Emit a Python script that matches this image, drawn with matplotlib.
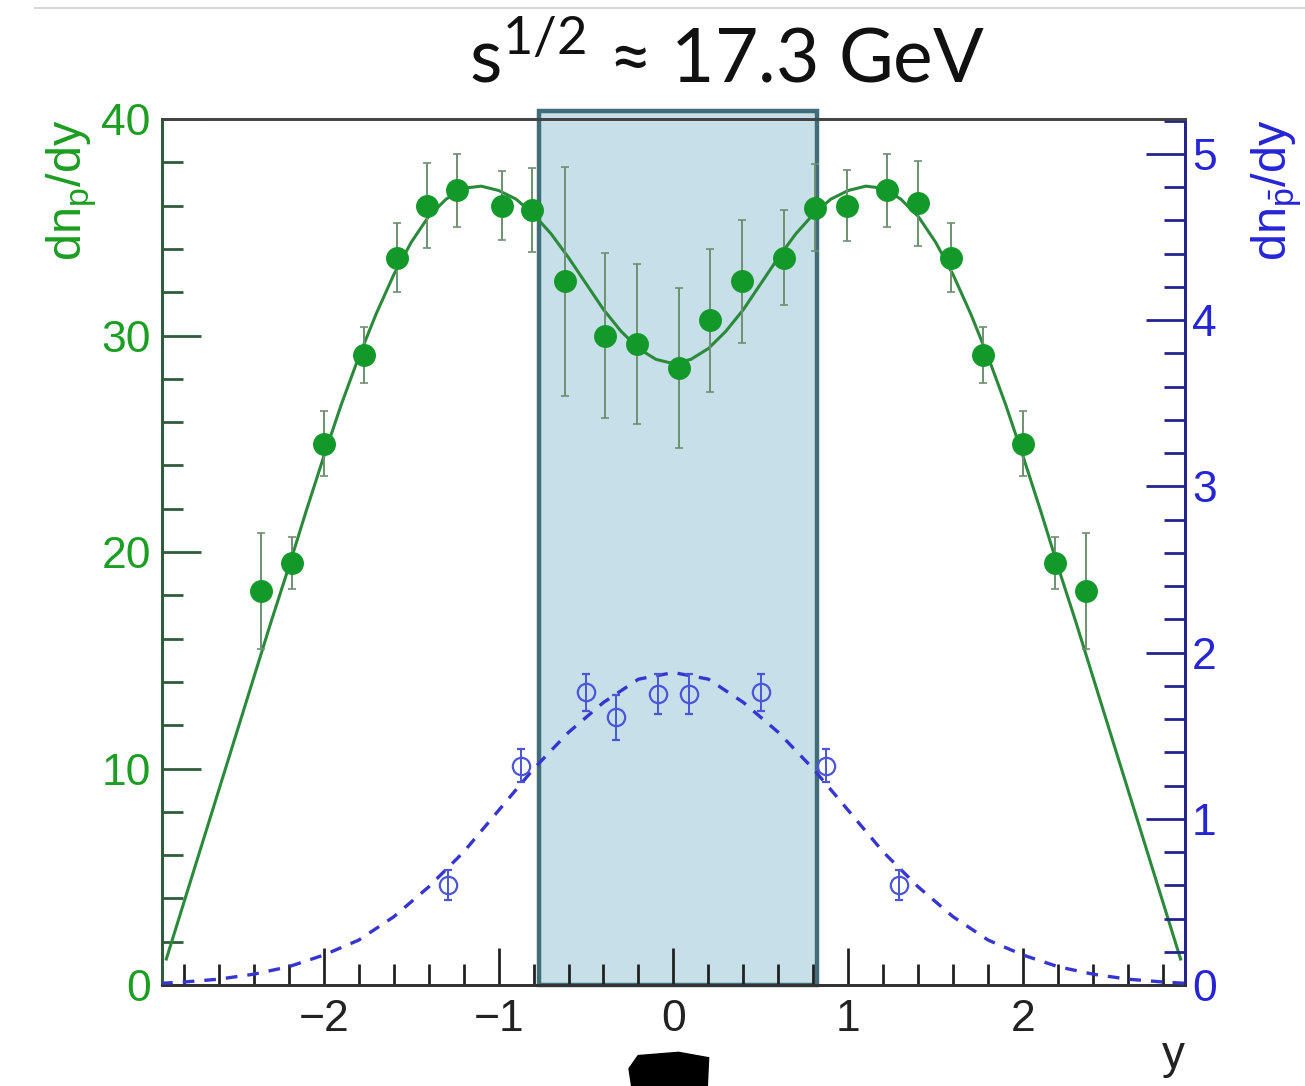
import numpy as np
import matplotlib
matplotlib.use("Agg")
import matplotlib.pyplot as plt
from matplotlib.patches import Rectangle, Polygon
from matplotlib.lines import Line2D
from matplotlib import ticker

plt.rcParams['font.family'] = ['Liberation Sans', 'DejaVu Sans']
plt.rcParams['mathtext.fontset'] = 'custom'
plt.rcParams['mathtext.rm'] = 'Liberation Sans'
plt.rcParams['mathtext.sf'] = 'Lato'

# protons (left axis), filled green points
p_y    = [-2.36, -2.18, -2.0, -1.77, -1.58, -1.41, -1.24, -0.98, -0.81, -0.62, -0.39, -0.21, 0.03,
          0.21, 0.39, 0.63, 0.81, 0.99, 1.22, 1.40, 1.59, 1.77, 2.0, 2.18, 2.36]
p_dndy = [18.2, 19.5, 25.0, 29.1, 33.6, 36.0, 36.7, 36.0, 35.8, 32.5, 30.0, 29.6, 28.5,
          30.7, 32.5, 33.6, 35.9, 36.0, 36.7, 36.1, 33.6, 29.1, 25.0, 19.5, 18.2]
p_err  = [2.7, 1.2, 1.5, 1.3, 1.6, 1.95, 1.7, 1.6, 1.95, 5.3, 3.8, 3.7, 3.7,
          3.3, 2.85, 2.2, 2.0, 1.65, 1.7, 1.95, 1.6, 1.3, 1.5, 1.2, 2.7]

# proton fit curve
fit_y    = [-2.9, -2.8, -2.7, -2.6, -2.5, -2.4, -2.3, -2.2, -2.1, -2.0, -1.9, -1.8, -1.7, -1.6,
            -1.5, -1.4, -1.3, -1.2, -1.1, -1.0, -0.9, -0.8, -0.7, -0.6, -0.5, -0.4, -0.3, -0.2,
            -0.1, 0.0, 0.1, 0.2, 0.3, 0.4, 0.5, 0.6, 0.7, 0.8, 0.9, 1.0, 1.1, 1.2, 1.3, 1.4,
            1.5, 1.6, 1.7, 1.8, 1.9, 2.0, 2.1, 2.2, 2.3, 2.4, 2.5, 2.6, 2.7, 2.8, 2.9]
fit_dndy = [1.2, 3.8, 6.4, 9.0, 11.6, 14.2, 16.8, 19.3, 21.9, 24.4, 26.8, 29.0, 31.0, 32.8,
            34.3, 35.5, 36.3, 36.8, 36.9, 36.7, 36.3, 35.6, 34.7, 33.6, 32.4, 31.2, 30.2, 29.4,
            28.9, 28.7, 28.9, 29.4, 30.2, 31.2, 32.4, 33.6, 34.7, 35.6, 36.3, 36.7, 36.9, 36.8,
            36.3, 35.5, 34.3, 32.8, 31.0, 29.0, 26.8, 24.4, 21.9, 19.3, 16.8, 14.2, 11.6, 9.0,
            6.4, 3.8, 1.2]

# antiprotons (right axis), open blue points
pb_y    = [-1.29, -0.87, -0.50, -0.33, -0.09, 0.09, 0.50, 0.87, 1.29]
pb_dndy = [0.60, 1.32, 1.76, 1.61, 1.75, 1.75, 1.76, 1.32, 0.60]
pb_err  = [0.09, 0.10, 0.11, 0.135, 0.12, 0.12, 0.11, 0.10, 0.09]

# antiproton fit curve (dashed)
gfit_y    = [-2.93, -2.8, -2.6, -2.4, -2.2, -2.0, -1.8, -1.6, -1.4, -1.2, -1.0, -0.8, -0.6, -0.4,
             -0.2, 0.0, 0.2, 0.4, 0.6, 0.8, 1.0, 1.2, 1.4, 1.6, 1.8, 2.0, 2.2, 2.4, 2.6, 2.8, 2.93]
gfit_dndy = [0.01, 0.018, 0.035, 0.065, 0.11, 0.18, 0.27, 0.41, 0.59, 0.80, 1.05, 1.30, 1.52, 1.70,
             1.84, 1.88, 1.84, 1.70, 1.52, 1.30, 1.05, 0.80, 0.59, 0.41, 0.27, 0.18, 0.11, 0.065,
             0.035, 0.018, 0.01]

box_lo, box_hi = -0.77, 0.82
xlim = (-2.925, 2.925)

GREEN = '#13992a'
GREEN_TXT = '#1c9e22'
GREEN_AX = '#2f5c3a'
BLUE = '#2525d6'
BLUE_AX = '#24248f'

fig = plt.figure(figsize=(13.05, 10.86), dpi=100)
ax = fig.add_axes([0.1241, 0.0930, 0.9080 - 0.1241, 0.8904 - 0.0930])
ax2 = ax.twinx()

# highlighted mid-rapidity band
ax.add_patch(Rectangle((box_lo, 0), box_hi - box_lo, 40.35, facecolor='#c6dfe9',
                       edgecolor='#3f6d78', lw=3.2, zorder=1, clip_on=False))

ax.plot(fit_y, fit_dndy, color='#2a8a3a', lw=2.2, zorder=3)
ax.errorbar(p_y, p_dndy, yerr=p_err, fmt='o', color=GREEN, ms=15.5, mec=GREEN,
            ecolor='#6f8f72', elinewidth=1.4, capsize=3, capthick=1.2, zorder=4)

ax2.plot(gfit_y, gfit_dndy, color='#3535d0', lw=2.4, ls=(0, (3.5, 3)), zorder=3)
ax2.errorbar(pb_y, pb_dndy, yerr=pb_err, fmt='o', mfc='none', mec='#4a55d8', mew=1.6, ms=12.5,
             ecolor='#4a55d8', elinewidth=1.4, capsize=3, capthick=1.2, zorder=4)

ax.set_xlim(*xlim)
ax.set_ylim(0, 40)
ax2.set_ylim(0, 5.21)

ax.xaxis.set_major_locator(ticker.MultipleLocator(1))
ax.xaxis.set_minor_locator(ticker.MultipleLocator(0.2))
ax.yaxis.set_major_locator(ticker.MultipleLocator(10))
ax.yaxis.set_minor_locator(ticker.MultipleLocator(2))
ax2.yaxis.set_major_locator(ticker.MultipleLocator(1))
ax2.yaxis.set_minor_locator(ticker.MultipleLocator(0.2))

ax.tick_params(axis='x', which='both', direction='in', top=False, colors='#222222',
               labelsize=32, pad=10, width=2)
ax.tick_params(axis='x', which='major', length=27)
ax.tick_params(axis='x', which='minor', length=15)
ax.tick_params(axis='y', which='both', direction='in', right=False, color=GREEN_AX,
               labelcolor=GREEN_TXT, labelsize=32, pad=8, width=2)
ax.tick_params(axis='y', which='major', length=28)
ax.tick_params(axis='y', which='minor', length=15)
ax2.tick_params(axis='y', which='both', direction='in', color=BLUE_AX,
                labelcolor=BLUE, labelsize=32, pad=5, width=2)
ax2.tick_params(axis='y', which='major', length=28)
ax2.tick_params(axis='y', which='minor', length=15)

for a in (ax, ax2):
    a.spines['top'].set_color('#444444')
    a.spines['bottom'].set_color('#333333')
    a.spines['left'].set_color(GREEN_AX)
    a.spines['right'].set_color(BLUE_AX)
    for s in a.spines.values():
        s.set_linewidth(2)

# axis titles
ax.text(-0.078, 1.0, r'dn$_\mathrm{p}$/dy', transform=ax.transAxes, rotation=90,
        rotation_mode='anchor', ha='right', va='baseline', fontsize=35, color=GREEN_TXT)
ax.text(1.100, 1.0, r'dn$_\mathrm{\bar{p}}$/dy', transform=ax.transAxes, rotation=90,
        rotation_mode='anchor', ha='right', va='baseline', fontsize=35, color=BLUE)
ax.text(1.0, -0.096, 'y', transform=ax.transAxes, ha='right', va='baseline',
        fontsize=33, color='#222222')

# title
fig.text(0.557, 0.9236, r'$\mathsf{s}^{\mathsf{1/2}}$ ≈ 17.3 GeV', ha='center', va='baseline',
         fontsize=54, family=['Lato', 'DejaVu Sans'], color='#111111')

# thin border line at the top and the dark smudge at the bottom
fig.add_artist(Line2D([0.027, 1.0], [0.9926, 0.9926], color='#d9d9d9', lw=1.5))
fig.add_artist(Polygon([[0.484, 0.000], [0.482, 0.016], [0.489, 0.028], [0.520, 0.031],
                        [0.543, 0.026], [0.542, 0.000]], closed=True, color='black'))

fig.savefig('out.png', dpi=100)
plt.close(fig)
